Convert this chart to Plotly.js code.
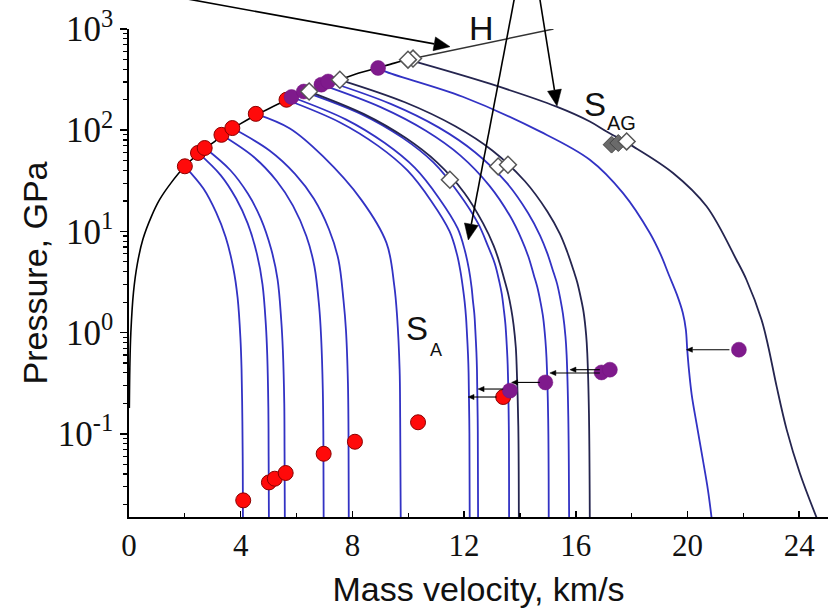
<!DOCTYPE html>
<html>
<head>
<meta charset="utf-8">
<script src="https://cdn.plot.ly/plotly-3.0.1.min.js"></script>
<style>html,body{margin:0;padding:0;background:#fff;}#chart{width:836px;height:608px;}</style>
</head>
<body>
<div id="chart"></div>
<script>
// Hugoniot H (mass velocity km/s, pressure GPa)
var hU = [0.012, 0.03, 0.066, 0.16, 0.3, 0.5, 0.8, 1.1, 1.5, 2.0, 2.5, 3.0, 3.5, 4.0, 4.5, 5.0, 5.6, 6.0, 6.5, 7.0, 7.5, 8.0, 8.9, 9.5, 10.0, 10.17];
var hP = [0.18, 0.45, 1.0, 2.5, 4.8, 8.4, 14, 20.7, 30, 44, 59, 75, 95, 116, 139, 163, 195, 216, 245, 278, 312, 350, 412, 460, 500, 510];
var hExtU = [10.17, 15.2];
var hExtP = [510, 1000];

// Release isentropes (blue / dark)
var s1U = [2.00, 2.67, 3.12, 3.46, 3.73, 3.89, 3.99, 4.03, 4.06, 4.074, 4.08];
var s1P = [44, 26.4, 15.4, 8.8, 4.4, 2.2, 0.88, 0.44, 0.132, 0.044, 0.0149];
var s2U = [2.47, 3.28, 3.84, 4.25, 4.58, 4.78, 4.90, 4.95, 4.99, 5.00, 5.01];
var s2P = [60, 36, 21, 12, 6, 3, 1.2, 0.6, 0.18, 0.06, 0.0149];
var s3U = [2.71, 3.63, 4.26, 4.72, 5.09, 5.32, 5.45, 5.51, 5.56, 5.57, 5.58];
var s3P = [67, 40.2, 23.5, 13.4, 6.7, 3.35, 1.34, 0.67, 0.2, 0.067, 0.0149];
var s4U = [3.31, 4.48, 5.29, 5.87, 6.35, 6.64, 6.81, 6.88, 6.94, 6.96, 6.97];
var s4P = [90, 54, 31.5, 18, 9, 4.5, 1.8, 0.9, 0.27, 0.09, 0.0149];
var s5U = [3.70, 5.03, 5.95, 6.62, 7.16, 7.50, 7.68, 7.77, 7.84, 7.86, 7.87];
var s5P = [105, 63, 36.8, 21, 10.5, 5.25, 2.1, 1.05, 0.315, 0.105, 0.0149];
var s6U = [4.54, 5.76, 6.95, 8.32, 9.22, 9.50, 9.60, 9.69, 9.71, 9.73];
var s6P = [145, 104, 55, 20.5, 7.7, 2.9, 1.45, 0.435, 0.145, 0.0149];
var s7U = [5.64, 7.54, 8.92, 9.97, 10.82, 11.48, 11.74, 11.87, 11.97, 12.02, 12.07, 12.10, 12.14, 12.16, 12.19, 12.2];
var s7P = [200, 120, 70, 40, 20, 10, 6, 4, 2.6, 2, 1.4, 1, 0.6, 0.4, 0.1, 0.0149];
var s8U = [5.82, 7.76, 9.16, 10.23, 11.10, 11.77, 12.03, 12.17, 12.27, 12.31, 12.37, 12.40, 12.44, 12.46, 12.49, 12.5];
var s8P = [213, 128, 74.6, 42.6, 21.3, 10.7, 6.4, 4.26, 2.77, 2.13, 1.49, 1.07, 0.64, 0.43, 0.107, 0.0149];
var s9U = [6.26, 8.30, 9.80, 10.90, 11.80, 12.50, 12.85, 13.10, 13.27, 13.35, 13.42, 13.48, 13.53, 13.56, 13.60, 13.61];
var s9P = [241, 145, 84, 48, 24, 12, 7.2, 4.8, 3.1, 2.4, 1.7, 1.2, 0.72, 0.48, 0.12, 0.0149];
var s10U = [6.45, 8.40, 9.90, 11.03, 12.01, 12.68, 13.06, 13.28, 13.47, 13.58, 13.69, 13.77, 13.85, 13.88, 13.94, 13.96];
var s10P = [241, 145, 84, 48, 24, 12, 7.2, 4.8, 3.13, 2.4, 1.69, 1.2, 0.72, 0.48, 0.12, 0.0149];
var s11U = [6.89, 9.01, 10.63, 11.86, 12.91, 13.65, 14.05, 14.30, 14.50, 14.62, 14.74, 14.83, 14.91, 14.95, 15.01, 15.03];
var s11P = [282, 169, 98.7, 56.4, 28.2, 14.1, 8.46, 5.64, 3.67, 2.82, 1.97, 1.41, 0.846, 0.564, 0.141, 0.0149];
var s12U = [7.13, 9.37, 11.10, 12.39, 13.52, 14.29, 14.72, 14.98, 15.20, 15.33, 15.45, 15.54, 15.63, 15.67, 15.73, 15.76];
var s12P = [303, 182, 106, 60.6, 30.3, 15.2, 9.09, 6.06, 3.94, 3.03, 2.12, 1.52, 0.91, 0.606, 0.15, 0.0149];
var s13U = [7.55, 9.88, 11.67, 13.01, 14.17, 14.98, 15.43, 15.69, 15.92, 16.05, 16.18, 16.28, 16.37, 16.41, 16.47, 16.5];
var s13P = [315, 189, 110, 63, 31.5, 15.75, 9.45, 6.3, 4.1, 3.15, 2.2, 1.58, 0.945, 0.63, 0.16, 0.0149];
var s14U = [8.92, 9.16, 11.95, 14.71, 16.50, 17.69, 18.65, 19.04, 19.33, 19.62, 19.83, 19.94, 19.99, 20.05, 20.15, 20.33, 20.55, 20.73, 20.86];
var s14P = [412, 381, 214, 97.3, 51.1, 23.9, 9.64, 5.89, 3.73, 2.37, 1.57, 1.07, 0.676, 0.43, 0.243, 0.123, 0.0553, 0.028, 0.0149];
var s15U = [9.99, 12.92, 15.31, 16.50, 17.10, 18.05, 19.48, 20.68, 21.75, 22.11, 22.65, 22.89, 23.19, 23.55, 24.02, 24.62];
var s15P = [498, 288, 171, 122, 97.2, 69.2, 37.8, 17.7, 5.25, 3.33, 1.34, 0.73, 0.294, 0.110, 0.041, 0.0149];

// Markers
var redU = [2.0, 2.47, 2.71, 3.31, 3.70, 4.54, 5.64, 4.09, 5.01, 5.22, 5.61, 6.97, 8.09, 10.35, 13.40];
var redP = [44, 59.6, 66.7, 90, 105, 145, 200, 0.022, 0.0331, 0.036, 0.041, 0.0635, 0.0835, 0.130, 0.231];
var purpleU = [5.82, 6.26, 6.89, 7.13, 8.92, 13.64, 14.91, 16.92, 17.22, 21.84];
var purpleP = [213, 241, 282, 303, 412, 0.267, 0.322, 0.404, 0.43, 0.678];
var diamondU = [6.45, 7.55, 10.17, 9.99, 11.49, 13.22, 13.57, 17.82];
var diamondP = [241, 315, 510, 498, 32.4, 43.9, 45.6, 77.5];
var grayDiamondU = [17.28, 17.52];
var grayDiamondP = [72, 74.7];

// Small arrows from measured points to release curves
var arrowFromU = [21.5, 16.86, 16.86, 14.71, 13.40, 13.16];
var arrowToU = [19.96, 15.79, 15.07, 13.70, 12.50, 12.14];
var arrowP = [0.678, 0.43, 0.399, 0.322, 0.277, 0.231];

var yTickVals = [0.1, 1, 10, 100, 1000];
var yTickText = ['10<sup>-1</sup>', '10<sup>0</sup>', '10<sup>1</sup>', '10<sup>2</sup>', '10<sup>3</sup>'];
var xTickVals = [0, 4, 8, 12, 16, 20, 24];

var BLUE = '#3232c4';
var DARK = '#25254f';
var curves = [
  [s1U, s1P, BLUE], [s2U, s2P, BLUE], [s3U, s3P, BLUE], [s4U, s4P, BLUE],
  [s5U, s5P, BLUE], [s6U, s6P, BLUE], [s7U, s7P, BLUE], [s8U, s8P, BLUE],
  [s9U, s9P, BLUE], [s10U, s10P, DARK], [s11U, s11P, BLUE], [s12U, s12P, BLUE],
  [s13U, s13P, DARK], [s14U, s14P, BLUE], [s15U, s15P, DARK]
];

var traces = [];
curves.forEach(function (c) {
  traces.push({x: c[0], y: c[1], mode: 'lines', type: 'scatter',
    line: {color: c[2], width: 1.8, shape: 'spline', smoothing: 1}, hoverinfo: 'skip'});
});
traces.push({x: hU, y: hP, mode: 'lines', type: 'scatter',
  line: {color: '#000', width: 1.6, shape: 'spline', smoothing: 1}});
traces.push({x: hExtU, y: hExtP, mode: 'lines', type: 'scatter',
  line: {color: '#333', width: 1.5}});
traces.push({x: redU, y: redP, mode: 'markers', type: 'scatter',
  marker: {symbol: 'circle', size: 15, color: '#ff0a0a', line: {color: '#8a0000', width: 1}}});
traces.push({x: purpleU, y: purpleP, mode: 'markers', type: 'scatter',
  marker: {symbol: 'circle', size: 15, color: '#7f1a8c', line: {color: '#741480', width: 0.5}}});
traces.push({x: grayDiamondU, y: grayDiamondP, mode: 'markers', type: 'scatter',
  marker: {symbol: 'diamond', size: 13, color: '#6a6a6a', line: {color: '#444', width: 1}}});
traces.push({x: diamondU, y: diamondP, mode: 'markers', type: 'scatter',
  marker: {symbol: 'diamond', size: 13, color: '#ffffff', line: {color: '#555', width: 1.5}}});

// geometry of the plot area (pixels), used to place arrows drawn as shapes
var M = {l: 129, r: 8, t: 29, b: 91};
var W = 836, H = 608;
var XR = [0, 25.03], YR = [-1.822, 3];
var PW = W - M.l - M.r, PH = H - M.t - M.b;
function dataPx(u, p) {
  return [M.l + (u - XR[0]) / (XR[1] - XR[0]) * PW,
          M.t + PH - (Math.log10(p) - YR[0]) / (YR[1] - YR[0]) * PH];
}
function paper(pt) { return [(pt[0] - M.l) / PW, (M.t + PH - pt[1]) / PH]; }

var shapes = [];
function arrow(tail, tip, L, Wd, lw) {
  var dx = tip[0] - tail[0], dy = tip[1] - tail[1];
  var len = Math.sqrt(dx * dx + dy * dy);
  dx /= len; dy /= len;
  var base = [tip[0] - dx * L, tip[1] - dy * L];
  var a = [base[0] - dy * Wd, base[1] + dx * Wd];
  var b = [base[0] + dy * Wd, base[1] - dx * Wd];
  var t0 = paper(tail), b0 = paper(base), p0 = paper(tip), pa = paper(a), pb = paper(b);
  shapes.push({type: 'line', xref: 'paper', yref: 'paper', x0: t0[0], y0: t0[1], x1: b0[0], y1: b0[1],
    line: {color: '#000', width: lw}});
  shapes.push({type: 'path', xref: 'paper', yref: 'paper',
    path: 'M' + p0[0] + ',' + p0[1] + 'L' + pa[0] + ',' + pa[1] + 'L' + pb[0] + ',' + pb[1] + 'Z',
    fillcolor: '#000', line: {color: '#000', width: 0.5}});
}
// long pointer arrows (pixel positions of tail/tip; tails run off the top)
arrow([150, -7.8], [450, 46.7], 16, 7, 1.6);
arrow([516, -10], [468.3, 240], 16, 7, 1.6);
arrow([538.4, -10], [557, 106], 16, 7, 1.6);
for (var i = 0; i < arrowFromU.length; i++) {
  arrow(dataPx(arrowFromU[i], arrowP[i]), dataPx(arrowToU[i], arrowP[i]), 6, 2.6, 1.1);
}

var annotations = [];
var textFont = {family: 'Liberation Sans, Arial, sans-serif', color: '#111'};
function txt(t, xp, yp, size) {
  annotations.push({text: t, xref: 'paper', yref: 'paper', x: xp, y: yp,
    xanchor: 'center', yanchor: 'middle', showarrow: false,
    font: Object.assign({size: size}, textFont)});
}
txt('H', 0.5036, 1.003, 34);
txt('S', 0.6667, 0.8443, 33);
txt('AG', 0.7049, 0.8074, 20);
txt('S', 0.4127, 0.3863, 33);
txt('A', 0.4392, 0.3432, 18);

var minorY = [];
[0.01, 0.1, 1, 10, 100].forEach(function (d) {
  for (var k = 2; k <= 9; k++) minorY.push(d * k);
});

var layout = {
  width: W, height: H,
  margin: M,
  paper_bgcolor: '#fff', plot_bgcolor: '#fff',
  showlegend: false,
  xaxis: {
    range: XR, tickmode: 'array', tickvals: xTickVals,
    ticks: 'inside', ticklen: 6, tickwidth: 1.5, tickcolor: '#000',
    minor: {tickmode: 'array', tickvals: [2, 6, 10, 14, 18, 22], ticks: 'inside', ticklen: 4, tickwidth: 1.2, tickcolor: '#000'},
    showline: true, linewidth: 1.8, linecolor: '#000', showgrid: false, zeroline: false,
    tickfont: {family: 'Liberation Serif, Times New Roman, serif', size: 31, color: '#111'},
    title: {text: 'Mass velocity, km/s', font: {family: 'Liberation Sans, Arial, sans-serif', size: 34, color: '#111'}, standoff: 15}
  },
  yaxis: {
    type: 'log', range: YR, tickmode: 'array', tickvals: yTickVals, ticktext: yTickText,
    ticks: 'outside', ticklen: 7, tickwidth: 1.5, tickcolor: '#000',
    minor: {tickmode: 'array', tickvals: minorY, ticks: 'outside', ticklen: 4, tickwidth: 1.2, tickcolor: '#000'},
    showline: true, linewidth: 1.8, linecolor: '#000', showgrid: false, zeroline: false,
    tickfont: {family: 'Liberation Serif, Times New Roman, serif', size: 35, color: '#111'},
    title: {text: 'Pressure, GPa', font: {family: 'Liberation Sans, Arial, sans-serif', size: 34, color: '#111'}, standoff: 0}
  },
  shapes: shapes,
  annotations: annotations
};

Plotly.newPlot('chart', traces, layout, {staticPlot: true, displayModeBar: false});
</script>
</body>
</html>
